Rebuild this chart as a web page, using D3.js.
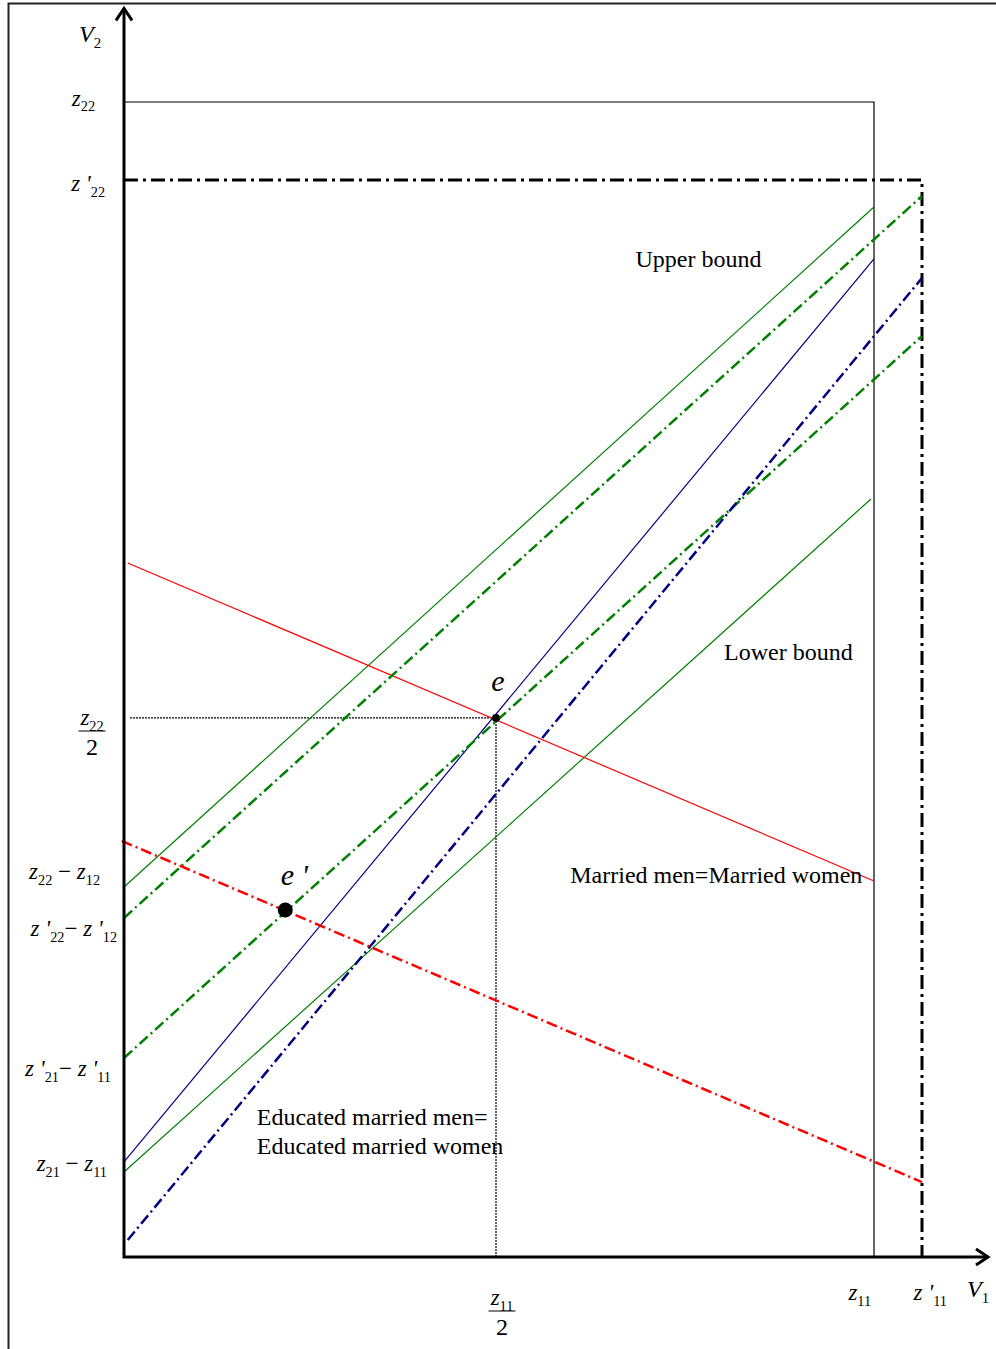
<!DOCTYPE html>
<html>
<head>
<meta charset="utf-8">
<script src="https://cdn.jsdelivr.net/npm/d3@7"></script>
<style>
  body { margin: 0; background: #fff; }
  svg { display: block; }
  text { font-family: "Liberation Serif", "Times New Roman", serif; fill: #000; }
</style>
</head>
<body>
<div id="viz"></div>
<script>
// Window / chart geometry
const width = 996;
const height = 1349;
const origin = {x: 124, y: 1257};

// Axis extents (in V1 / V2 units, z11 = z22 = 100)
const xMax = 115.2;
const yMax = 108.1;

// Feasible sets: [V1 limit, V2 limit]
const boxOld = [100, 100];      // z11, z22
const boxNew = [106.4, 93.25];  // z'11, z'22

// Equilibria
const pointE = [49.6, 46.67];
const pointE2 = [21.5, 30.04];

// Lines: [x0, y0, x1, y1]
const upperBound = [0, 32.03, 100, 90.91];
const lowerBound = [0, 7.36, 99.6, 65.63];
const eduOld = [0, 8.23, 100, 86.41];
const marriedOld = [0.5, 60.09, 100, 32.55];
const upperBoundNew = [0, 29.35, 106.4, 91.86];
const lowerBoundNew = [0, 17.23, 106.4, 79.74];
const eduNew = [0.5, 1.47, 106.4, 84.76];
const marriedNew = [-0.3, 36.02, 106.4, 6.49];

// Tick labels
const yTickValues = [100.2, 92.8, 33.25, 28.3, 16.2, 7.95];
const yTickLabels = ["z_{22}", "z '_{22}", "z_{22} − z_{12}", "z '_{22}− z '_{12}", "z '_{21}− z '_{11}", "z_{21} − z_{11}"];
const yTickShift = [-2.2, -0.2, -1.2, 2.2, 1.0, 0.2];
const xTickValues = [98.1, 107.5];
const xTickLabels = ["z_{11}", "z '_{11}"];

// Text annotations
const notes = ["Upper bound", "Lower bound", "Married men=Married women", "Educated married men=", "Educated married women"];
const noteX = [68.2, 80.0, 59.5, 17.7, 17.7];
const noteY = [85.7, 51.7, 32.4, 11.4, 8.9];

const x = d3.scaleLinear().domain([0, 100]).range([origin.x, 874]);
const y = d3.scaleLinear().domain([0, 100]).range([origin.y, 102]);

const svg = d3.select("#viz").append("svg")
  .attr("width", width)
  .attr("height", height);

// outer frame (cut off at right and bottom)
svg.append("rect")
  .attr("x", 8.5).attr("y", 3.5)
  .attr("width", 1100).attr("height", 1500)
  .attr("fill", "none").attr("stroke", "#222").attr("stroke-width", 2);

// writes a label like "z'_{22} − z_{12}" with italic letters and subscripts
function mathText(sel, str, size) {
  const parts = str.split(/(_\{[^}]*\})/).filter(s => s.length);
  let shifted = false;
  parts.forEach(p => {
    if (p.startsWith("_{")) {
      sel.append("tspan")
        .attr("font-size", size * 0.62)
        .attr("font-style", "normal")
        .attr("dy", size * 0.25)
        .text(p.slice(2, -1));
      shifted = true;
    } else {
      p.split(/(−)/).filter(s => s.length).forEach(q => {
        const t = sel.append("tspan")
          .attr("font-size", size)
          .attr("font-style", q.includes("−") ? "normal" : "italic")
          .text(q);
        if (shifted) { t.attr("dy", -size * 0.25); shifted = false; }
      });
    }
  });
}

function fraction(gx, gy, num, size, lineW) {
  const g = svg.append("g").attr("transform", "translate(" + gx + "," + gy + ")");
  mathText(g.append("text").attr("text-anchor", "middle").attr("y", -6), num, size);
  g.append("line").attr("x1", -lineW / 2).attr("x2", lineW / 2)
    .attr("stroke", "#000").attr("stroke-width", 1);
  g.append("text").attr("text-anchor", "middle").attr("y", 24)
    .attr("font-size", 24).text("2");
}

const ddThick = "11,4,2,4";

// feasible rectangles
svg.append("path")
  .attr("d", d3.line()([[x(0), y(boxOld[1])], [x(boxOld[0]), y(boxOld[1])], [x(boxOld[0]), y(0)]]))
  .attr("fill", "none").attr("stroke", "#000").attr("stroke-width", 1.2);
svg.append("path")
  .attr("d", d3.line()([[x(0), y(boxNew[1])], [x(boxNew[0]), y(boxNew[1])], [x(boxNew[0]), y(0)]]))
  .attr("fill", "none").attr("stroke", "#000").attr("stroke-width", 3)
  .attr("stroke-dasharray", "14,5,3,5");

// guides to e
svg.append("path")
  .attr("d", d3.line()([[x(0.8), y(pointE[1])], [x(pointE[0]), y(pointE[1])], [x(pointE[0]), y(0)]]))
  .attr("fill", "none").attr("stroke", "#000").attr("stroke-width", 1.2)
  .attr("stroke-dasharray", "2,1");

// the eight lines
const lineSet = [
  {v: upperBound, color: "#008000", w: 1.2, dash: null},
  {v: lowerBound, color: "#008000", w: 1.2, dash: null},
  {v: eduOld, color: "#000080", w: 1.2, dash: null},
  {v: marriedOld, color: "#ff0000", w: 1.2, dash: null},
  {v: upperBoundNew, color: "#008000", w: 2.5, dash: ddThick},
  {v: lowerBoundNew, color: "#008000", w: 2.5, dash: ddThick},
  {v: eduNew, color: "#000080", w: 2.5, dash: ddThick},
  {v: marriedNew, color: "#ff0000", w: 2.5, dash: ddThick}
];
svg.selectAll(".eq-line")
  .data(lineSet)
  .enter().append("line")
  .attr("class", "eq-line")
  .attr("x1", d => x(d.v[0])).attr("y1", d => y(d.v[1]))
  .attr("x2", d => x(d.v[2])).attr("y2", d => y(d.v[3]))
  .attr("stroke", d => d.color)
  .attr("stroke-width", d => d.w)
  .attr("stroke-dasharray", d => d.dash);

// axes with open arrow heads
svg.append("path")
  .attr("d", d3.line()([[x(0), y(yMax)], [x(0), y(0)], [x(xMax), y(0)]]))
  .attr("fill", "none").attr("stroke", "#000").attr("stroke-width", 3);
svg.append("path")
  .attr("d", d3.line()([[x(0) - 8, y(yMax) + 12], [x(0), y(yMax)], [x(0) + 8, y(yMax) + 12]]))
  .attr("fill", "none").attr("stroke", "#000").attr("stroke-width", 3);
svg.append("path")
  .attr("d", d3.line()([[x(xMax) - 12, y(0) - 8], [x(xMax), y(0)], [x(xMax) + -12, y(0) + 8]]))
  .attr("fill", "none").attr("stroke", "#000").attr("stroke-width", 3);

// equilibrium points
svg.append("circle").attr("cx", x(pointE[0])).attr("cy", y(pointE[1])).attr("r", 4);
svg.append("circle").attr("cx", x(pointE2[0])).attr("cy", y(pointE2[1])).attr("r", 7.5);
svg.append("text").attr("x", x(pointE[0]) + 2).attr("y", y(pointE[1]) - 27)
  .attr("text-anchor", "middle").attr("font-size", 30).attr("font-style", "italic").text("e");
svg.append("text").attr("x", x(pointE2[0]) + 9).attr("y", y(pointE2[1]) - 25)
  .attr("text-anchor", "middle").attr("font-size", 30).attr("font-style", "italic").text("e '");

// y tick labels
yTickValues.forEach((v, i) => {
  const t = svg.append("text")
    .attr("x", x(0) - 18 + yTickShift[i] * 5).attr("y", y(v) + 6)
    .attr("text-anchor", "end");
  mathText(t, yTickLabels[i], 23);
});
fraction(x(0) - 32, y(45.54), "z_{22}", 23, 27);

// x tick labels
xTickValues.forEach((v, i) => {
  const t = svg.append("text")
    .attr("x", x(v)).attr("y", y(0) + 43)
    .attr("text-anchor", "middle");
  mathText(t, xTickLabels[i], 23);
});
fraction(x(50.4), y(0) + 54, "z_{11}", 23, 27);

// axis names
mathText(svg.append("text").attr("x", x(0) - 45).attr("y", 42), "V_{2}", 24);
mathText(svg.append("text").attr("x", 967).attr("y", 1297), "V_{1}", 24);

// notes
notes.forEach((s, i) => {
  svg.append("text")
    .attr("x", x(noteX[i])).attr("y", y(noteY[i]))
    .attr("font-size", 24)
    .text(s);
});
</script>
</body>
</html>
